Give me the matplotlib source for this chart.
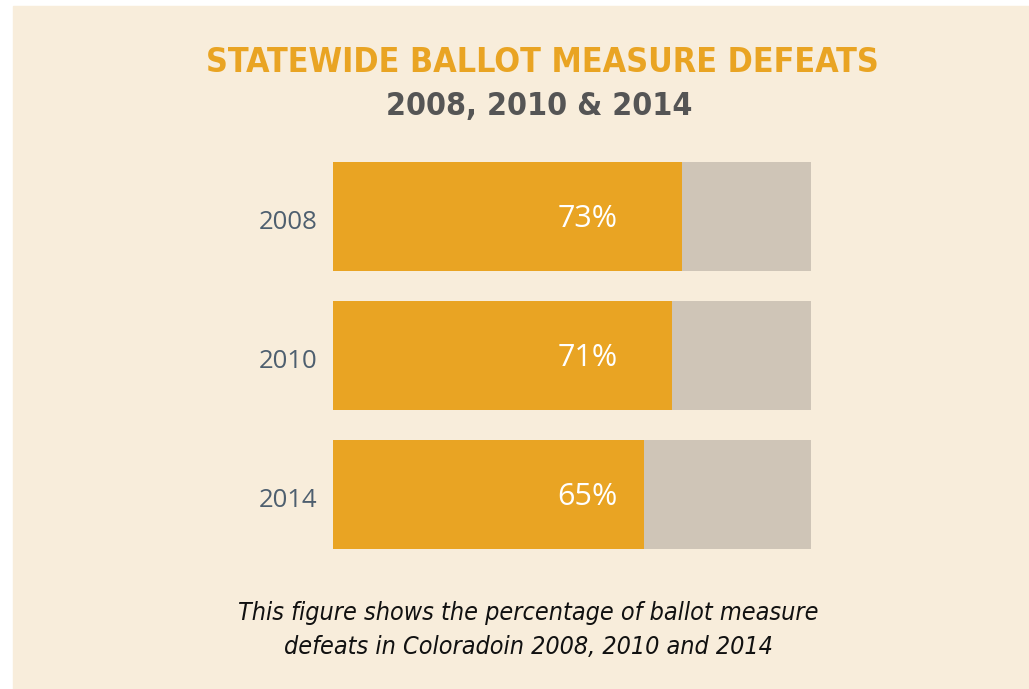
import matplotlib
matplotlib.use('Agg')
import matplotlib.pyplot as plt
from matplotlib.patches import Rectangle

years = ['2008', '2010', '2014']
defeats = [73, 71, 65]
totals = [100, 100, 100]
pct_labels = ['73%', '71%', '65%']

title = 'STATEWIDE BALLOT MEASURE DEFEATS'
subtitle = '2008, 2010 & 2014'
caption = 'This figure shows the percentage of ballot measure\ndefeats in Coloradoin 2008, 2010 and 2014'

orange = '#E9A423'
grey = '#CFC5B7'
bg = '#F8EDDB'

W, H = 1029, 689
fig = plt.figure(figsize=(W / 100, H / 100), dpi=100)
fig.patch.set_facecolor('white')
fig.patches.append(Rectangle((13 / W, 0), 1 - 13 / W, (H - 6) / H,
                             transform=fig.transFigure, color=bg, zorder=-5))

# axes box in pixel terms: x 333..811, y 162..549 (from top)
ax = fig.add_axes([333 / W, 1 - 549 / H, (811 - 333) / W, (549 - 162) / H])
ax.set_zorder(2)
ax.set_facecolor('none')
h = 109 / 139
ypos = list(range(len(years)))
ax.barh(ypos, totals, height=h, color=grey, zorder=1)
ax.barh(ypos, defeats, height=h, color=orange, zorder=2)
ax.set_xlim(0, 100)
ax.set_ylim(len(years) - 1 + h / 2, -h / 2)
for s in ax.spines.values():
    s.set_visible(False)
ax.set_xticks([])
ax.set_yticks([y + 0.025 for y in ypos])
ax.set_yticklabels(years, fontsize=18.5, color='#4E5F6F', family='Open Sans')
ax.tick_params(axis='y', length=0, pad=11)

for y, lab in zip(ypos, pct_labels):
    ax.text(53.2, y + 0.02, lab, ha='center', va='center', color='white',
            fontsize=22, family='Open Sans', zorder=3)

fig.text(542 / W, 1 - 63 / H, title, ha='center', va='center',
         fontsize=24.4, fontweight='bold', color=orange, family='DejaVu Sans',
         fontstretch='condensed')
fig.text(539 / W, 1 - 107 / H, subtitle, ha='center', va='center',
         fontsize=23, fontweight='bold', color='#555555', family='DejaVu Sans',
         fontstretch='condensed')
fig.text(528 / W, 1 - 630 / H, caption, ha='center', va='center',
         fontsize=18, style='italic', color='#111111', family='DejaVu Sans',
         fontstretch='condensed', linespacing=1.55)

fig.savefig('out.png', dpi=100, facecolor=fig.get_facecolor())
